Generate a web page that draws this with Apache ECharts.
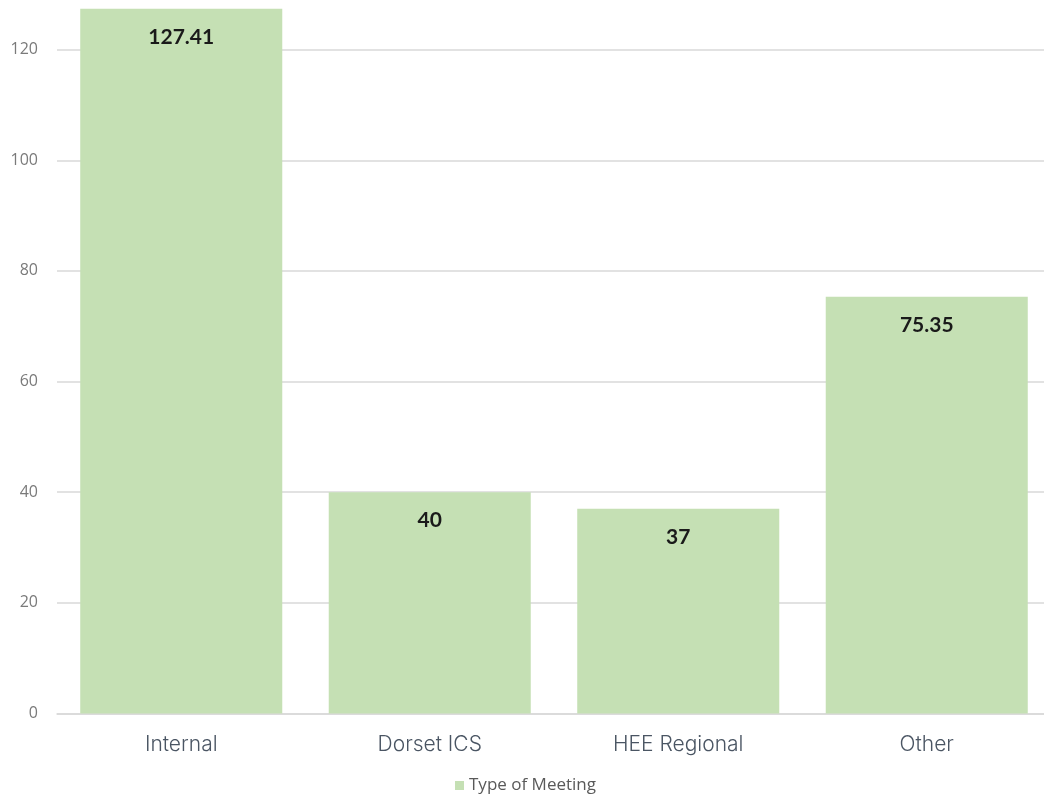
<!DOCTYPE html>
<html>
<head>
<meta charset="utf-8">
<script src="https://cdn.jsdelivr.net/npm/echarts@6/dist/echarts.min.js"></script>
<style>
  html, body { margin: 0; padding: 0; background: #ffffff; overflow: hidden; }
  /* The plot runs past the top and right of the page, so the canvas is offset */
  #chart { position: absolute; left: 0; top: -61px; width: 1051px; height: 864px; }
</style>
</head>
<body>
<div id="chart"></div>
<script>
// Meeting hours by type
const categories = ['Internal', 'Dorset ICS', 'HEE Regional', 'Other'];
const meetingValues = [127.41, 40, 37, 75.35];
const seriesName = 'Type of Meeting';

const chart = echarts.init(document.getElementById('chart'));
chart.setOption({
  animation: false,
  backgroundColor: '#ffffff',
  grid: { left: 57, right: 0, top: 0, bottom: 89.5, containLabel: false, outerBoundsMode: 'none' },
  legend: {
    bottom: 4,
    left: 'center',
    itemWidth: 9,
    itemHeight: 9,
    itemGap: 5,
    icon: 'rect',
    textStyle: { color: '#595959', fontSize: 17, fontFamily: 'Open Sans' },
    data: [seriesName]
  },
  xAxis: {
    type: 'category',
    data: categories,
    axisLine: { lineStyle: { color: '#d9d9d9', width: 1.5 } },
    axisTick: { show: false },
    axisLabel: { color: '#4a5563', fontSize: 21, fontFamily: 'Inter', fontWeight: 300, margin: 21 }
  },
  yAxis: {
    type: 'value',
    min: 0,
    max: 140,
    interval: 20,
    axisLine: { show: false },
    axisTick: { show: false },
    splitLine: { lineStyle: { color: '#d9d9d9', width: 1.5 } },
    axisLabel: { color: '#7a7a7a', fontSize: 16, fontFamily: 'Open Sans', margin: 19 }
  },
  series: [{
    name: seriesName,
    type: 'bar',
    data: meetingValues,
    barCategoryGap: '18.7%',
    itemStyle: { color: '#c5e0b4' },
    label: {
      show: true,
      position: 'insideTop',
      distance: 18,
      color: '#1a1a1a',
      fontSize: 21,
      fontWeight: 'bold',
      fontFamily: 'Lato'
    }
  }]
});
</script>
</body>
</html>
